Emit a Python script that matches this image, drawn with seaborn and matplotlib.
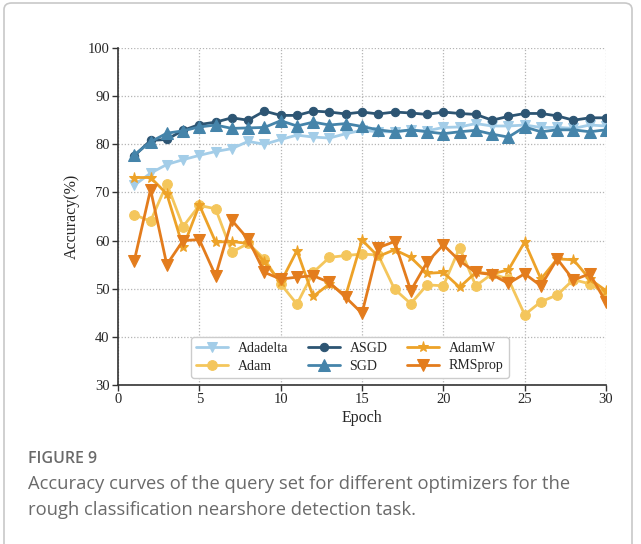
import matplotlib
matplotlib.use("Agg")
import matplotlib.pyplot as plt
import seaborn as sns
import pandas as pd
from matplotlib.patches import FancyBboxPatch

epochs = list(range(1, 31))
adadelta = [71.5, 74.0, 75.8, 76.8, 77.7, 78.5, 79.1, 80.6, 80.0, 81.0, 81.9, 81.5, 81.3, 82.2, 82.9,
            82.6, 82.6, 82.9, 82.8, 83.5, 83.6, 84.3, 83.8, 83.8, 84.0, 83.5, 83.5, 83.3, 84.0, 83.8]
adam = [65.4, 64.0, 71.8, 62.9, 67.3, 66.6, 57.6, 59.4, 56.2, 51.0, 46.8, 53.4, 56.5, 56.9, 57.2,
        57.0, 49.9, 46.9, 50.8, 50.6, 58.5, 50.6, 53.1, 52.0, 44.6, 47.3, 48.7, 51.9, 51.0, 49.0]
asgd = [77.6, 80.8, 81.0, 82.9, 84.1, 84.6, 85.5, 85.0, 86.9, 86.0, 86.0, 86.9, 86.7, 86.3, 86.7,
        86.3, 86.7, 86.5, 86.2, 86.7, 86.4, 86.2, 85.0, 85.8, 86.4, 86.4, 85.9, 85.0, 85.5, 85.5]
sgd = [77.8, 80.5, 82.3, 82.8, 83.6, 84.0, 83.3, 83.4, 83.5, 84.9, 83.8, 84.6, 84.0, 84.3, 83.7,
       83.0, 82.6, 83.0, 82.6, 82.2, 82.6, 82.9, 82.1, 81.5, 83.6, 82.6, 83.0, 83.0, 82.6, 83.0]
adamw = [73.1, 73.1, 69.7, 58.6, 67.4, 59.7, 59.8, 59.4, 55.6, 51.3, 57.9, 48.4, 51.0, 48.6, 60.1,
         56.7, 58.1, 56.5, 53.2, 53.4, 50.3, 53.4, 53.1, 53.9, 59.7, 52.0, 56.2, 56.0, 52.0, 49.6]
rmsprop = [55.8, 70.6, 55.0, 60.0, 60.2, 52.7, 64.2, 60.3, 53.4, 52.0, 52.4, 52.7, 51.3, 48.2, 44.9,
           58.5, 59.8, 49.6, 55.5, 59.1, 55.8, 53.4, 52.9, 51.1, 53.1, 50.6, 56.2, 51.8, 53.1, 47.2]

names = ["Adadelta", "Adam", "ASGD", "SGD", "AdamW", "RMSprop"]
series = [adadelta, adam, asgd, sgd, adamw, rmsprop]
colors = ["#a3cde8", "#f4c65c", "#2d5573", "#4584aa", "#eda228", "#e37c1d"]
markers = ["v", "o", "o", "^", "*", "v"]
msizes = [7, 7, 6, 9, 8, 8]

x_ticks = [0, 5, 10, 15, 20, 25, 30]
y_ticks = [30, 40, 50, 60, 70, 80, 90, 100]

sns.set_style("ticks")
plt.rcParams["font.family"] = ["Liberation Serif", "DejaVu Serif"]

fig = plt.figure(figsize=(6.41, 5.44), dpi=100)
W, H = 641, 544
L, R, T, B = 118, 606, 48, 385
ax = fig.add_axes([L / W, 1 - B / H, (R - L) / W, (B - T) / H])

for name, vals, c, m, ms in zip(names, series, colors, markers, msizes):
    df = pd.DataFrame({"Epoch": epochs, "Accuracy": vals})
    sns.lineplot(data=df, x="Epoch", y="Accuracy", ax=ax, color=c, marker=m,
                 markersize=ms, markeredgecolor=c, linewidth=2.0, label=name)

ax.set_xlim(0, 30)
ax.set_ylim(30, 100)
ax.set_xticks(x_ticks)
ax.set_yticks(y_ticks)
ax.tick_params(axis="both", labelsize=10.5, direction="out", length=4, width=1, color="#333333", pad=2)
for s in ["top", "right"]:
    ax.spines[s].set_visible(False)
for s in ["left", "bottom"]:
    ax.spines[s].set_color("#333333")
    ax.spines[s].set_linewidth(1.2)
ax.grid(True, linestyle=(0, (1, 1.5)), color="#b5b5b5", linewidth=0.9)
ax.set_axisbelow(True)
ax.set_xlabel("Epoch", fontsize=11.5, labelpad=3)
ax.set_ylabel("Accuracy(%)", fontsize=11.5, labelpad=6)

leg = ax.legend(loc="lower center", bbox_to_anchor=(0.475, 0.0), ncol=3, fontsize=10,
                frameon=True, handlelength=2.3, columnspacing=1.4, labelspacing=0.3,
                handletextpad=0.7, borderpad=0.4, fancybox=True, edgecolor="#cccccc", framealpha=1)

# outer card frame
card = FancyBboxPatch((4 / W, -20 / H), (632 - 4) / W, (541 + 20) / H,
                      boxstyle="round,pad=0,rounding_size=0.012",
                      transform=fig.transFigure, facecolor="none",
                      edgecolor="#c8c8c8", linewidth=1.2, zorder=-1)
fig.patches.append(card)

fig.text(28 / W, 1 - 459 / H, "FIGURE 9", fontsize=11.5, color="#6a6a6a",
         family=["Open Sans", "DejaVu Sans"], fontweight="semibold", va="center", ha="left")
fig.text(28 / W, 1 - 484 / H, "Accuracy curves of the query set for different optimizers for the",
         fontsize=13.2, color="#6a6a6a", family=["Open Sans", "DejaVu Sans"], va="center", ha="left")
fig.text(28 / W, 1 - 510 / H, "rough classification nearshore detection task.",
         fontsize=13.2, color="#6a6a6a", family=["Open Sans", "DejaVu Sans"], va="center", ha="left")

fig.savefig("out.png", dpi=100)
